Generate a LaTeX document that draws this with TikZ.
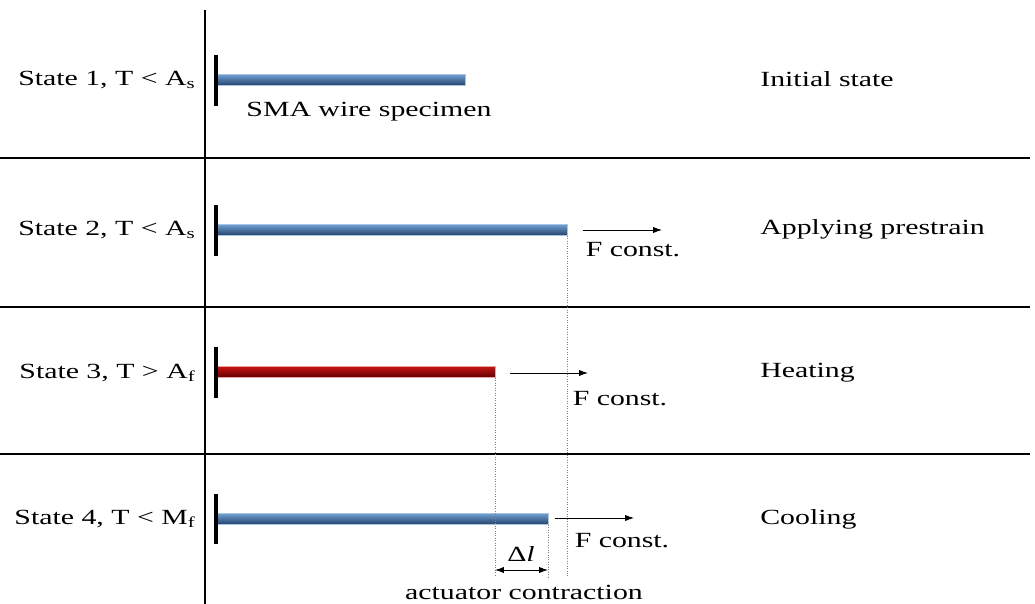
\documentclass[tikz,border=0pt]{standalone}
\usepackage{fontspec}
\setmainfont{Liberation Serif}[FakeStretch=1.38]
\usetikzlibrary{arrows.meta}
\definecolor{bluetop}{RGB}{110,160,210}
\definecolor{bluemid}{RGB}{70,120,170}
\definecolor{bluebot}{RGB}{35,65,105}
\definecolor{redtop}{RGB}{200,20,20}
\definecolor{redmid}{RGB}{160,0,0}
\definecolor{redbot}{RGB}{95,0,0}
\begin{document}
\begin{tikzpicture}[x=0.02cm, y=-0.02cm,
    every node/.style={font=\fontsize{12.3}{14}\selectfont, inner sep=0pt},
    wall/.style={line width=2.3pt},
    bluewire/.style={top color=bluetop, middle color=bluemid, bottom color=bluebot, draw=bluetop!60, line width=0.3pt},
    redwire/.style={top color=redtop, middle color=redmid, bottom color=redbot, draw=redtop!40, line width=0.3pt},
    force/.style={-{Latex[length=5pt,width=3.5pt]}, line width=0.5pt},
    guide/.style={densely dotted, black!50, line width=0.4pt}]
  \useasboundingbox (0,0) rectangle (1035,604);

  % Raster
  \coordinate (top) at (205,10);
  \coordinate (bot) at (205,604);
  \draw[line width=0.7pt] (top) -- (bot);
  \foreach \y in {158,307,454}
    \draw[line width=0.6pt] (0,\y) -- (1030,\y);

  % Zustand 1
  \node[anchor=east] (s1) at (196,80) {State 1, T < A\textsubscript{s}};
  \node[anchor=west] (r1) at (760,79) {Initial state};
  \shade[bluewire] (216,74.5) rectangle (465,85.5);
  \draw[wall] (216,55) -- (216,106);
  \coordinate (e1) at (465,80);
  \node (spec) at (369,112) {SMA wire specimen};

  % Zustand 2
  \node[anchor=east] (s2) at (196,230) {State 2, T < A\textsubscript{s}};
  \node[anchor=west] (r2) at (760,229) {Applying prestrain};
  \shade[bluewire] (216,224.5) rectangle (567,235.5);
  \draw[wall] (216,205) -- (216,256);
  \coordinate (e2) at (567,236);
  \coordinate (a2) at (583,230);
  \coordinate (b2) at (662,230);
  \draw[force] (a2) -- (b2);
  \node (f2) at (633,250) {F const.};

  % Zustand 3
  \node[anchor=east] (s3) at (196,373) {State 3, T > A\textsubscript{f}};
  \node[anchor=west] (r3) at (760,373) {Heating};
  \shade[redwire] (216,366.5) rectangle (495,377.5);
  \draw[wall] (216,347) -- (216,398);
  \coordinate (e3) at (495,378);
  \coordinate (a3) at (510,373);
  \coordinate (b3) at (588,373);
  \draw[force] (a3) -- (b3);
  \node (f3) at (620,399) {F const.};

  % Zustand 4
  \node[anchor=east] (s4) at (196,519) {State 4, T < M\textsubscript{f}};
  \node[anchor=west] (r4) at (760,519) {Cooling};
  \shade[bluewire] (216,513.5) rectangle (548,524.5);
  \draw[wall] (216,494) -- (216,544);
  \coordinate (e4) at (548,525);
  \coordinate (a4) at (555,518);
  \coordinate (b4) at (634,518);
  \draw[force] (a4) -- (b4);
  \node (f4) at (622,541) {F const.};

  % Hilfslinien
  \coordinate (g2) at (567,577);
  \coordinate (g3) at (495,577);
  \coordinate (g4) at (548,577);
  \draw[guide] (e2) -- (g2);
  \draw[guide] (e3) -- (g3);
  \draw[guide] (e4) -- (g4);

  % Kontraktion
  \coordinate (d1) at (495,570);
  \coordinate (d2) at (548,570);
  \draw[{Latex[length=5pt,width=3.5pt]}-{Latex[length=5pt,width=3.5pt]}, line width=0.5pt] (d1) -- (d2);
  \node (dl) at (521,554) {Δ\textit{l}};
  \node (act) at (524,592) {actuator contraction};
\end{tikzpicture}
\end{document}
